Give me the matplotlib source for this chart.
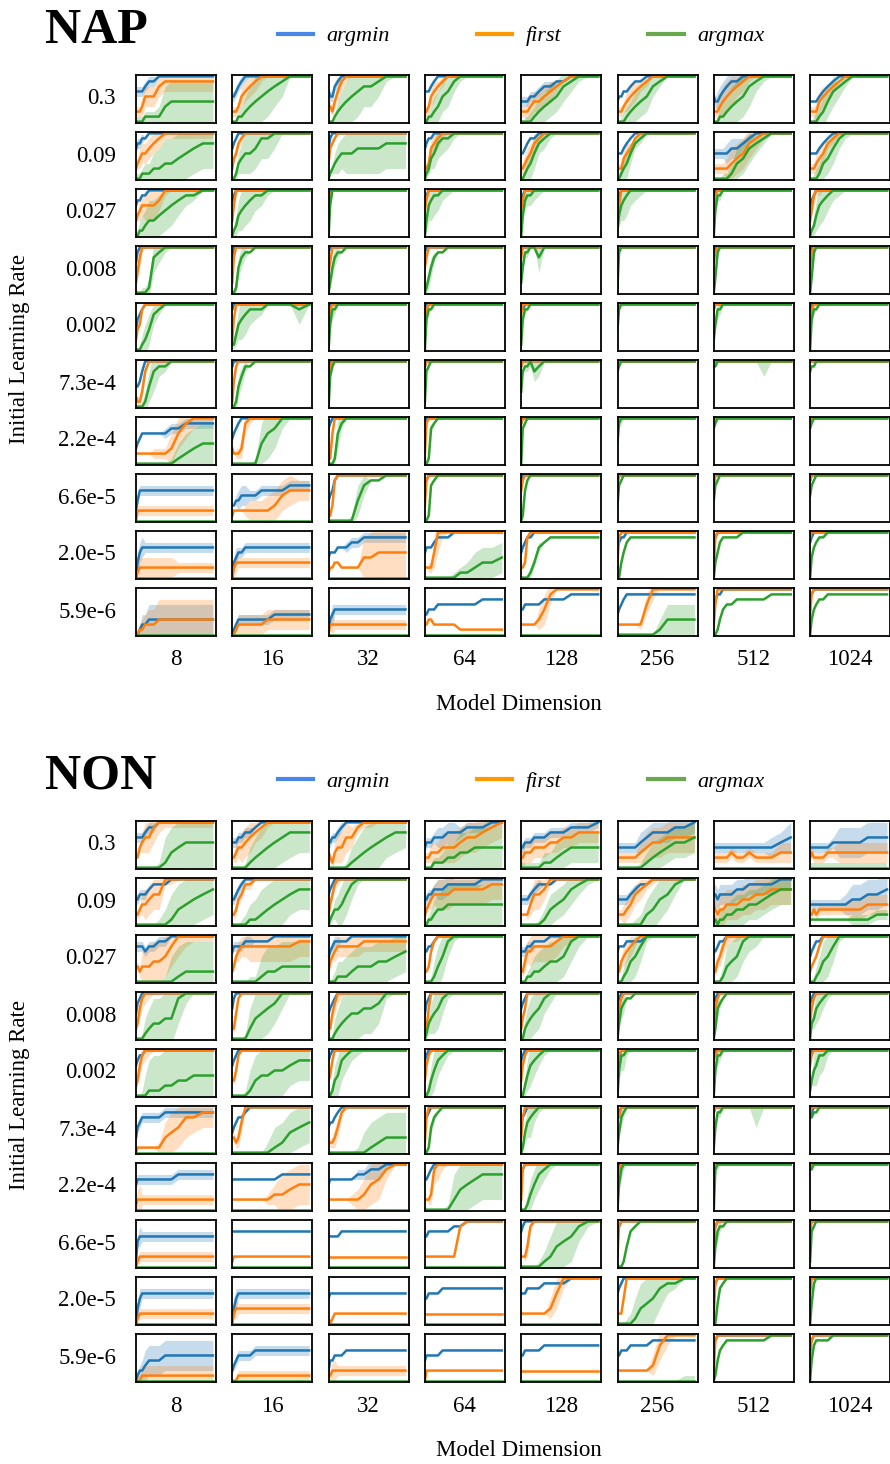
import numpy as np
import matplotlib
matplotlib.use("Agg")
import matplotlib.pyplot as plt
from matplotlib.lines import Line2D

plt.rcParams["font.family"] = ["Liberation Serif", "DejaVu Serif"]

# training progress (fraction of run) at which each curve value was read
STEPS = [0, .02, .05, .08, .12, .17, .23, .30, .38, .46, .55, .65, .75, .87, 1.0]
LEARNING_RATES = ["0.3", "0.09", "0.027", "0.008", "0.002", "7.3e-4", "2.2e-4", "6.6e-5", "2.0e-5", "5.9e-6"]
MODEL_DIMS = ["8", "16", "32", "64", "128", "256", "512", "1024"]
SERIES = ["argmin", "first", "argmax"]

# one string per cell (rows = learning rate, cols = model dim), digit d -> accuracy d/9
# *_SD = half width of the shaded band, same encoding, "0" = no band
NAP_ARGMIN = [
    ["666678899999999", "556789999999999", "655789999999999", "666789999999999", "444455677889999", "455667889999999", "544567889999999", "444456789999999"],
    ["677889999999999", "678999999999999", "689999999999999", "678899999999999", "556788999999999", "555678999999999", "555555667899999", "555567899999999"],
    ["677889999999999", "789999999999999", "799999999999999", "789999999999999", "789999999999999", "789999999999999", "899999999999999", "678999999999999"],
    ["689999999999999", "799999999999999", "899999999999999", "899999999999999", "899999999999999", "899999999999999", "899999999999999", "899999999999999"],
    ["467899999999999", "899999999999999", "799999999999999", "899999999999999", "889999999999999", "899999999999999", "899999999999999", "799999999999999"],
    ["445799999999999", "899999999999999", "899999999999999", "899999999999999", "899999999999999", "999999999999999", "999999999999999", "999999999999999"],
    ["345666666778888", "567899999999999", "789999999999999", "899999999999999", "899999999999999", "899999999999999", "899999999999999", "899999999999999"],
    ["246666666666666", "334455556666777", "456899999999999", "789999999999999", "899999999999999", "899999999999999", "899999999999999", "899999999999999"],
    ["035666666666666", "034556666666666", "455566677888888", "566678889999999", "567889999999999", "678899999999999", "789999999999999", "789999999999999"],
    ["001223333333333", "012333333344444", "134555555555555", "445556666666777", "556666677778888", "456788888888888", "678899999999999", "789999999999999"],
]
NAP_ARGMIN_SD = [
    ["111111100000000", "111111000000000", "111110000000000", "0", "111111111000000", "0", "112222211000000", "0"],
    ["111100000000000", "0", "0", "0", "0", "0", "111112221100000", "0"],
    ["0", "0", "0", "0", "0", "0", "0", "0"],
    ["0", "0", "0", "0", "0", "0", "0", "0"],
    ["0", "0", "0", "0", "0", "0", "0", "0"],
    ["0", "0", "0", "0", "0", "0", "0", "0"],
    ["000000001111111", "0", "0", "0", "0", "0", "0", "0"],
    ["011111111111111", "001222111111111", "0", "0", "0", "0", "0", "0"],
    ["122211111111111", "112111111111111", "000000111111111", "0", "0", "0", "0", "0"],
    ["011223333333333", "011111111111111", "112111111111111", "0", "0", "0", "0", "0"],
]
NAP_FIRST = [
    ["222355578888888", "222356789999999", "332468999999999", "223567899999999", "222234456789999", "222345678999999", "222345678999999", "222245678999999"],
    ["234556789999999", "245789999999999", "367899999999999", "223678999999999", "223457899999999", "222456899999999", "222222345789999", "222345789999999"],
    ["345666679999999", "369999999999999", "589999999999999", "579999999999999", "579999999999999", "469999999999999", "589999999999999", "358999999999999"],
    ["247999999999999", "279999999999999", "469999999999999", "579999999999999", "799999999999999", "899999999999999", "689999999999999", "589999999999999"],
    ["245899999999999", "269999999999999", "589999999999999", "689999999999999", "799999999999999", "899999999999999", "899999999999999", "689999999999999"],
    ["211379999999999", "158999999999999", "689999999999999", "899999999999999", "899999999999999", "899999999999999", "999999999999999", "999999999999999"],
    ["222222222368999", "322238999999999", "216999999999999", "289999999999999", "899999999999999", "899999999999999", "899999999999999", "899999999999999"],
    ["022222222222222", "122222222235666", "213899999999999", "389999999999999", "689999999999999", "799999999999999", "799999999999999", "899999999999999"],
    ["012222222222222", "023333333333333", "122332222445555", "222259999999999", "223899999999999", "389999999999999", "289999999999999", "899999999999999"],
    ["001122233333333", "001222222333333", "022222222222222", "223322222111111", "222222358999999", "222222226999999", "269999999999999", "489999999999999"],
]
NAP_FIRST_SD = [
    ["111222222222222", "111122221000000", "111122100000000", "111221100000000", "111222222100000", "011122211000000", "112233322100000", "111222110000000"],
    ["112222221111111", "111110000000000", "0", "112222100000000", "112222100000000", "111221000000000", "111112333321000", "111222110000000"],
    ["112233321000000", "111000000000000", "0", "0", "0", "0", "0", "112110000000000"],
    ["112100000000000", "0", "0", "0", "0", "0", "0", "0"],
    ["0", "0", "0", "0", "0", "0", "0", "0"],
    ["011110000000000", "0", "0", "0", "0", "0", "0", "0"],
    ["000000111333211", "001122100000000", "0", "0", "0", "0", "0", "0"],
    ["011111111111111", "000001222333322", "0", "0", "0", "0", "0", "0"],
    ["112222222211111", "122111111111111", "000000000455555", "001134100000000", "0", "0", "0", "0"],
    ["011223344444444", "011222222222222", "012111111111111", "0", "000000232000000", "000000012200000", "0", "0"],
]
NAP_ARGMAX = [
    ["000011113444444", "000112345678999", "000123456778999", "001123568999999", "000001234578999", "000012345789999", "000112345789999", "000012467899999"],
    ["000111223345677", "001345568899999", "012345556666777", "012457889999999", "001235789999999", "001235789999999", "000000134678999", "000013468999999"],
    ["001123345678899", "012456788999999", "069999999999999", "036788999999999", "047889999999999", "146789999999999", "058899999999999", "012467899999999"],
    ["000001789999999", "001578899999999", "025788999999999", "013578899999999", "258899799999999", "189999999999999", "038999999999999", "038999999999999"],
    ["000124789999999", "113567888999989", "058899999999999", "068899999999999", "168899999999999", "489999999999999", "258899999999999", "068899999999999"],
    ["000014788999999", "001468899999999", "068999999999999", "178999999999999", "378897899999999", "789999999999999", "889999999999999", "788999999999999"],
    ["000000000012344", "000000004679999", "000168999999999", "001789999999999", "078999999999999", "489999999999999", "789999999999999", "789999999999999"],
    ["000000000000000", "000000000000000", "000000004788999", "001789999999999", "016899999999999", "378999999999999", "478999999999999", "578999999999999"],
    ["000000000000000", "000000000000000", "000000000000000", "000000000112334", "000013678888888", "003578888888888", "035788889999999", "046788999999999"],
    ["000000000000000", "000000000000000", "000000000000000", "000000000000000", "000000000000000", "000000000013333", "001356677777888", "035677888888888"],
]
NAP_ARGMAX_SD = [
    ["111111124444444", "000123455543000", "000123455443100", "001233332100000", "001122333332100", "001222333210000", "001233444421000", "001223332100000"],
    ["111122345555555", "001234444430000", "001233445555555", "011233321000000", "011233221000000", "011232110000000", "000011233321000", "001223332100000"],
    ["112334444432100", "012344432100000", "0", "023443210000000", "012222100000000", "023443210000000", "011100000000000", "012344321000000"],
    ["000112321000000", "001221000000000", "012210000000000", "012210000000000", "011100300000000", "0", "011000000000000", "011000000000000"],
    ["001233210000000", "012344321000030", "012100000000000", "011000000000000", "011000000000000", "0", "012100000000000", "011000000000000"],
    ["000123421000000", "012221000000000", "0", "0", "001112200000000", "0", "000000000003000", "0"],
    ["000000000134444", "000000014542000", "000131000000000", "001100000000000", "0", "011000000000000", "0", "0"],
    ["0", "0", "000000013200000", "0", "0", "0", "0", "0"],
    ["0", "0", "0", "000000001123333", "000011100000000", "0", "0", "0"],
    ["0", "0", "0", "0", "0", "000000000023333", "0", "0"],
]

NON_ARGMIN = [
    ["666678899999999", "555667789999999", "556678999999999", "455566677788899", "445556667778889", "444444456777889", "444444444444456", "444444455555666"],
    ["556667888999999", "556789999999999", "678999999999999", "556677788888999", "555567888999999", "555556788999999", "665666677888899", "444444444455667"],
    ["777767788999999", "677778888899999", "567888899999999", "667789999999999", "666778889999999", "677788889999999", "667889999999999", "567889999999999"],
    ["578999999999999", "689999999999999", "567899999999999", "578999999999999", "678999999999999", "789999999999999", "789999999999999", "789999999999999"],
    ["678899999999999", "678999999999999", "789999999999999", "789999999999999", "789999999999999", "889999999999999", "899999999999999", "799999999999999"],
    ["356777778888888", "456778999999999", "566789999999999", "678999999999999", "678999999999999", "889999999999999", "899999999999999", "789999999999999"],
    ["566666666677777", "666666666667777", "566666667788999", "667899999999999", "789999999999999", "899999999999999", "899999999999999", "899999999999999"],
    ["156666666666666", "777777777777777", "666667777777777", "667777778899999", "789999999999999", "789999999999999", "789999999999999", "899999999999999"],
    ["035666666666666", "135666666666666", "566666666666666", "556666777777777", "666777788889999", "678999999999999", "789999999999999", "899999999999999"],
    ["012234445555555", "234555566666666", "244555666666666", "455555666666666", "556666677777777", "556667777888888", "789999999999999", "789999999999999"],
]
NON_ARGMIN_SD = [
    ["111111100000000", "111111100000000", "111111000000000", "111112222111111", "111111111111111", "111111122222222", "111111111111223", "111111113333333"],
    ["111110000000000", "111110000000000", "0", "111112221111111", "111111100000000", "111111100000000", "222222222222222", "111111111233333"],
    ["111111111000000", "111111100000000", "111110000000000", "0", "111110000000000", "0", "0", "0"],
    ["0", "0", "0", "0", "0", "0", "0", "0"],
    ["0", "0", "0", "0", "0", "0", "0", "0"],
    ["111111111111111", "0", "0", "0", "0", "0", "0", "0"],
    ["111111111111111", "0", "000000001122100", "0", "0", "0", "0", "0"],
    ["012111111111111", "0", "0", "0", "0", "0", "0", "0"],
    ["112111111111111", "122111111111111", "0", "0", "0", "0", "0", "0"],
    ["011233333333333", "011111111111111", "0", "0", "0", "0", "0", "0"],
]
NON_FIRST = [
    ["224566899999999", "223445678999999", "321344668999999", "222333444566789", "223334445566777", "222222234556666", "222222322322233", "232222333333333"],
    ["223445669999999", "223568899999999", "246899999999999", "234566667777788", "222246679999999", "222234678999999", "432334445566777", "223233333333444"],
    ["332333445799999", "235677777777788", "245677777888888", "223689999999999", "224667777899999", "224567899999999", "224579999999999", "234579999999999"],
    ["236899999999999", "225899999999999", "325799999999999", "326999999999999", "246999999999999", "368999999999999", "368999999999999", "368999999999999"],
    ["236899999999999", "335899999999999", "347999999999999", "368999999999999", "368999999999999", "689999999999999", "789999999999999", "689999999999999"],
    ["011111113457788", "332369999999999", "222358999999999", "279999999999999", "379999999999999", "779999999999999", "899999999999999", "899999999999999"],
    ["122222222222222", "222222222233455", "222222222356899", "222389999999999", "289999999999999", "589999999999999", "899999999999999", "899999999999999"],
    ["012222222222222", "122222222222222", "222222222222222", "222222222899999", "222489999999999", "289999999999999", "389999999999999", "799999999999999"],
    ["012222222222222", "023333333333333", "101222222222222", "222222222222222", "222222223699999", "222599999999999", "289999999999999", "699999999999999"],
    ["000111111111111", "000111111111111", "112222222222222", "022222222222222", "222222222222222", "222222222379999", "289999999999999", "589999999999999"],
]
NON_FIRST_SD = [
    ["001233321111111", "012233322100000", "011233321110000", "111222333333333", "122222222222222", "111111123333333", "111111111111122", "111111112222222"],
    ["011233331100000", "011111100000000", "011110000000000", "111223333333333", "000123321000000", "011222221100000", "222333333333333", "111111111122222"],
    ["011334444442111", "011222333333333", "011222222222222", "0", "012233333321000", "011222100000000", "011222110000000", "0"],
    ["112221000000000", "011000000000000", "011221000000000", "0", "0", "0", "0", "0"],
    ["112221000000000", "011000000000000", "0", "0", "0", "0", "0", "0"],
    ["000000013444333", "011220000000000", "011221000000000", "0", "0", "0", "0", "0"],
    ["123111111111111", "000000000124444", "000000012344200", "001233100000000", "0", "0", "0", "0"],
    ["011111111111111", "0", "0", "0", "001210000000000", "0", "0", "0"],
    ["011111111111111", "012111111111111", "0", "0", "000000002320000", "0", "0", "0"],
    ["011222222222222", "001111111111111", "012211111111111", "0", "0", "000000000232000", "0", "0"],
]
NON_ARGMAX = [
    ["000000001345555", "000000123456777", "000000012345677", "000011122334444", "000000011234444", "000000001234556", "000000000000000", "000000000000000"],
    ["000000000134567", "000000112345677", "012334689999999", "001123344444444", "000000013457899", "000000002356899", "110112233445677", "111111111111122"],
    ["000000000012222", "000000001223333", "000011123334456", "000013589999999", "000112234458999", "000124579999999", "000013458999999", "000124579999999"],
    ["000012334489999", "000000245679999", "000123455667999", "013456899999999", "002345689999999", "036788999999999", "026789999999999", "034678999999999"],
    ["000001112233444", "000000134455677", "001347899999999", "001357899999999", "002467899999999", "058899999999999", "058899999999999", "135688999999999"],
    ["000000000000000", "000000000012456", "000000000012333", "001578999999999", "014678999999999", "147899999999999", "158899999999999", "778899999999999"],
    ["000000000000000", "000000000000000", "000000000000000", "000000002456777", "000135789999999", "058999999999999", "089999999999999", "889999999999999"],
    ["000000000000000", "000000000000000", "000000000000000", "000000000000000", "000000012456899", "000147899999999", "047889999999999", "178999999999999"],
    ["000000000000000", "000000000000000", "000000000000000", "000000000000000", "000000000000000", "000000134578899", "004789999999999", "048999999999999"],
    ["000000000000000", "000000000000000", "000000000000000", "000000000000000", "000000000000000", "000000000000000", "014678888888999", "047888899999999"],
]
NON_ARGMAX_SD = [
    ["000000015555555", "000001345555544", "000000134555443", "000111233444444", "111111122333333", "000000012333333", "0", "111111111111111"],
    ["000000013555555", "000012345555444", "011234431000000", "011233444444444", "000000123333210", "000000123443200", "111222333333333", "000000000011111"],
    ["000000001566666", "000000114555555", "001233444444444", "000134431000000", "000123444444200", "001234431000000", "000124444320000", "001234431000000"],
    ["000134555552000", "000001455543000", "001345555554100", "012344310000000", "012344432000000", "012200000000000", "012100000000000", "012332100000000"],
    ["000146777777777", "000001455555444", "012344321000000", "012343210000000", "012343210000000", "023310000000000", "012100000000000", "013443100000000"],
    ["0", "000000000244444", "000000001455555", "000110000000000", "012342100000000", "012100000000000", "011100000040000", "0"],
    ["0", "0", "0", "000000015555555", "001233321000000", "012100000000000", "011000000000000", "0"],
    ["0", "0", "0", "0", "000000124555310", "0", "012100000000000", "0"],
    ["0", "0", "0", "0", "0", "000012455542100", "0", "011000000000000"],
    ["0", "0", "0", "0", "0", "000000000000011", "0", "0"],
]

CURVE_COLORS = ["#1f77b4", "#ff7f0e", "#2ca02c"]
LEGEND_COLORS = ["#4a86e8", "#ff9900", "#6aa84f"]

W, H = 890, 1464
fig = plt.figure(figsize=(W / 100, H / 100), dpi=100)


def fx(px):
    return px / W


def fy(py):
    return 1 - py / H


def decode(code):
    return np.array([int(ch) for ch in code], dtype=float) / 9


def draw_panel(name, top, tables):
    col_left, col_pitch, box_w = 136, 96.3, 80
    row_pitch, box_h = 57.0, 48
    for r in range(len(LEARNING_RATES)):
        y0 = top + r * row_pitch
        for c in range(len(MODEL_DIMS)):
            x0 = col_left + c * col_pitch
            ax = fig.add_axes([fx(x0), fy(y0 + box_h), box_w / W, box_h / H])
            for (mean_tab, sd_tab), color in zip(tables, CURVE_COLORS):
                y = decode(mean_tab[r][c])
                x = np.array(STEPS[:len(y)])
                y = y[:len(x)]
                if sd_tab[r][c] != "0":
                    sd = decode(sd_tab[r][c])
                    n = min(len(sd), len(y))
                    ax.fill_between(x[:n], y[:n] - sd[:n], y[:n] + sd[:n],
                                    color=color, alpha=0.25, lw=0)
                ax.plot(x, y, color=color, lw=1.8)
            ax.set_xlim(0, 1.04)
            ax.set_ylim(-0.03, 1.03)
            ax.set_xticks([])
            ax.set_yticks([])
            for s in ax.spines.values():
                s.set_linewidth(1.3)
                s.set_color("black")
        fig.text(fx(116), fy(y0 + box_h / 2), LEARNING_RATES[r], ha="right", va="center", fontsize=16.5)
    bottom = top + 9 * row_pitch + box_h
    for c, lab in enumerate(MODEL_DIMS):
        fig.text(fx(col_left + c * col_pitch + box_w / 2), fy(bottom + 24), lab,
                 ha="center", va="center", fontsize=16.5)
    fig.text(fx(519), fy(bottom + 69), "Model Dimension", ha="center", va="center", fontsize=16.5)
    fig.text(fx(20), fy((top + bottom) / 2 - 7), "Initial Learning Rate", rotation=90,
             ha="center", va="center", fontsize=16.5)
    fig.text(fx(45), fy(top - 44), name, ha="left", va="center", fontsize=36, fontweight="bold")
    handles = [Line2D([], [], color=col, lw=3) for col in LEGEND_COLORS]
    fig.legend(handles, SERIES, loc="center", bbox_to_anchor=(fx(521), fy(top - 39)), ncol=3,
               frameon=False, prop={"style": "italic", "size": 16}, handlelength=1.6,
               handletextpad=0.6, columnspacing=3.9)


draw_panel("NAP", 75, [(NAP_ARGMIN, NAP_ARGMIN_SD), (NAP_FIRST, NAP_FIRST_SD), (NAP_ARGMAX, NAP_ARGMAX_SD)])
draw_panel("NON", 821, [(NON_ARGMIN, NON_ARGMIN_SD), (NON_FIRST, NON_FIRST_SD), (NON_ARGMAX, NON_ARGMAX_SD)])

fig.savefig("out.png", dpi=100)
